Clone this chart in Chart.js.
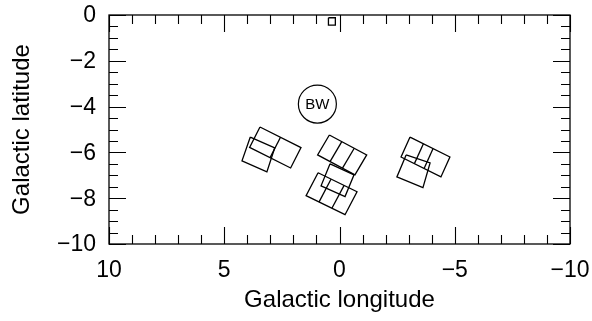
<!DOCTYPE html>
<html>
<head>
<meta charset="utf-8">
<script src="https://cdn.jsdelivr.net/npm/chart.js@4/dist/chart.umd.min.js"></script>
<style>
html,body{margin:0;padding:0;background:#fff;}
#wrap{width:592px;height:321px;position:relative;}
</style>
</head>
<body>
<div id="wrap"><canvas id="c" width="592" height="321"></canvas></div>
<script>
// ---- data (galactic longitude l, latitude b) ----
const xTickLabels = [10, 5, 0, -5, -10];
const yTickLabels = [0, -2, -4, -6, -8, -10];

// left field group (l ~ 3, b ~ -6)
const leftRect   = [[3.45,-4.89],[1.67,-5.79],[2.12,-6.68],[3.90,-5.78]];
const leftRectDiv = [[2.56,-5.34],[3.01,-6.23]];
const leftSquare = [[3.87,-5.33],[2.81,-5.80],[3.15,-6.85],[4.23,-6.37]];

// middle field group (l ~ 0, b ~ -6.5 / -8)
const midUpperRect = [[0.44,-5.24],[-1.18,-6.11],[-0.67,-6.98],[0.95,-6.11]];
const midUpperDiv1 = [[-0.10,-5.53],[0.41,-6.40]];
const midUpperDiv2 = [[-0.64,-5.82],[-0.13,-6.69]];
const midSquare    = [[0.41,-6.50],[-0.63,-6.98],[-0.24,-7.93],[0.80,-7.46]];
const midLowerRect = [[0.93,-6.89],[-0.76,-7.72],[-0.24,-8.72],[1.45,-7.89]];
const midLowerDiv1 = [[0.37,-7.17],[0.89,-8.17]];
const midLowerDiv2 = [[-0.20,-7.44],[0.33,-8.44]];

// right field group (l ~ -4, b ~ -6.3)
const rightRect   = [[-3.06,-5.33],[-4.79,-6.20],[-4.40,-7.07],[-2.67,-6.20]];
const rightDiv1   = [[-3.64,-5.62],[-3.25,-6.49]];
const rightDiv2   = [[-4.06,-5.83],[-3.67,-6.70]];
const rightSquare = [[-2.89,-6.11],[-3.93,-6.46],[-3.62,-7.54],[-2.49,-7.07]];

// small field near the plane
const smallSquare = [[0.48,-0.12],[0.18,-0.12],[0.18,-0.44],[0.48,-0.44]];

// Baade's Window marker
const bwCenter = [0.96, -3.89];
const bwLabel = 'BW';

// ---- build datasets ----
const closedPolys = [leftRect, leftSquare, midUpperRect, midSquare, midLowerRect, rightRect, rightSquare, smallSquare];
const openLines = [leftRectDiv, midUpperDiv1, midUpperDiv2, midLowerDiv1, midLowerDiv2, rightDiv1, rightDiv2];

const toPts = arr => arr.map(p => ({x: p[0], y: p[1]}));
const lineStyle = {showLine: true, borderColor: '#000', borderWidth: 1.3, pointRadius: 0, pointHoverRadius: 0, fill: false, tension: 0};

const datasets = [];
closedPolys.forEach(poly => {
  const pts = toPts(poly);
  pts.push({...pts[0]});
  datasets.push(Object.assign({data: pts}, lineStyle));
});
openLines.forEach(seg => {
  datasets.push(Object.assign({data: toPts(seg)}, lineStyle));
});
datasets.push({
  data: [{x: bwCenter[0], y: bwCenter[1]}],
  showLine: false, pointRadius: 19, pointHoverRadius: 19, pointStyle: 'circle',
  pointBorderColor: '#000', pointBackgroundColor: 'rgba(0,0,0,0)', pointBorderWidth: 1.2
});

const FONT = "'Liberation Sans', Arial, Helvetica, sans-serif";
const fmt = v => (v < 0 ? '\u2212' + Math.abs(v) : String(v));

const frameTicks = {
  id: 'frameTicks',
  afterDraw(chart) {
    const {ctx, chartArea: a, scales: {x, y}} = chart;
    ctx.save();
    ctx.strokeStyle = '#000';
    ctx.lineWidth = 1.3;
    ctx.strokeRect(a.left, a.top, a.right - a.left, a.bottom - a.top);
    ctx.lineWidth = 1.1;
    ctx.beginPath();
    for (let v = -10; v <= 10; v += 1) {
      const px = Math.round(x.getPixelForValue(v)) + 0.5;
      const len = (v % 5 === 0) ? 17 : 9;
      ctx.moveTo(px, a.bottom); ctx.lineTo(px, a.bottom - len);
      ctx.moveTo(px, a.top); ctx.lineTo(px, a.top + len);
    }
    for (let k = 0; k <= 20; k++) {
      const v = -k * 0.5;
      const py = Math.round(y.getPixelForValue(v)) + 0.5;
      const len = (k % 4 === 0) ? 17 : 9;
      ctx.moveTo(a.left, py); ctx.lineTo(a.left + len, py);
      ctx.moveTo(a.right, py); ctx.lineTo(a.right - len, py);
    }
    ctx.stroke();
    // y tick labels, placed through the y scale
    ctx.fillStyle = '#000';
    ctx.font = '23px ' + FONT;
    ctx.textAlign = 'right';
    ctx.textBaseline = 'middle';
    yTickLabels.forEach(v => {
      ctx.fillText(fmt(v), a.left - 13, y.getPixelForValue(v) + 1);
    });
    ctx.restore();
  },
  afterDatasetsDraw(chart) {
    const {ctx, scales: {x, y}} = chart;
    ctx.save();
    ctx.fillStyle = '#000';
    ctx.font = '15px ' + FONT;
    ctx.textAlign = 'center';
    ctx.textBaseline = 'middle';
    ctx.fillText(bwLabel, x.getPixelForValue(bwCenter[0]), y.getPixelForValue(bwCenter[1]) + 1);
    ctx.restore();
  }
};

new Chart(document.getElementById('c'), {
  type: 'scatter',
  data: {datasets},
  plugins: [frameTicks],
  options: {
    responsive: false,
    animation: false,
    devicePixelRatio: 1,
    layout: {autoPadding: false, padding: {top: 15, right: 22, left: 0, bottom: 0}},
    plugins: {legend: {display: false}, tooltip: {enabled: false}},
    scales: {
      x: {
        type: 'linear', min: -10, max: 10, reverse: true,
        afterFit: s => { s.height = 77; s.paddingLeft = 0; s.paddingRight = 0; },
        afterBuildTicks: s => { s.ticks = xTickLabels.map(v => ({value: v})); },
        grid: {display: false, drawTicks: false},
        border: {display: false},
        ticks: {color: '#000', padding: 13, maxRotation: 0, font: {family: FONT, size: 23}, callback: v => fmt(v)},
        title: {display: true, text: 'Galactic longitude', color: '#000', font: {family: FONT, size: 24}, padding: {top: 0, bottom: 6}}
      },
      y: {
        type: 'linear', min: -10, max: 0,
        afterFit: s => { s.width = 109; s.paddingTop = 0; s.paddingBottom = 0; },
        afterBuildTicks: s => { s.ticks = yTickLabels.map(v => ({value: v})); },
        grid: {display: false, drawTicks: false},
        border: {display: false},
        ticks: {display: false},
        title: {display: true, text: 'Galactic latitude', color: '#000', font: {family: FONT, size: 24}, padding: {top: 8, bottom: 0}}
      }
    }
  }
});
</script>
</body>
</html>
